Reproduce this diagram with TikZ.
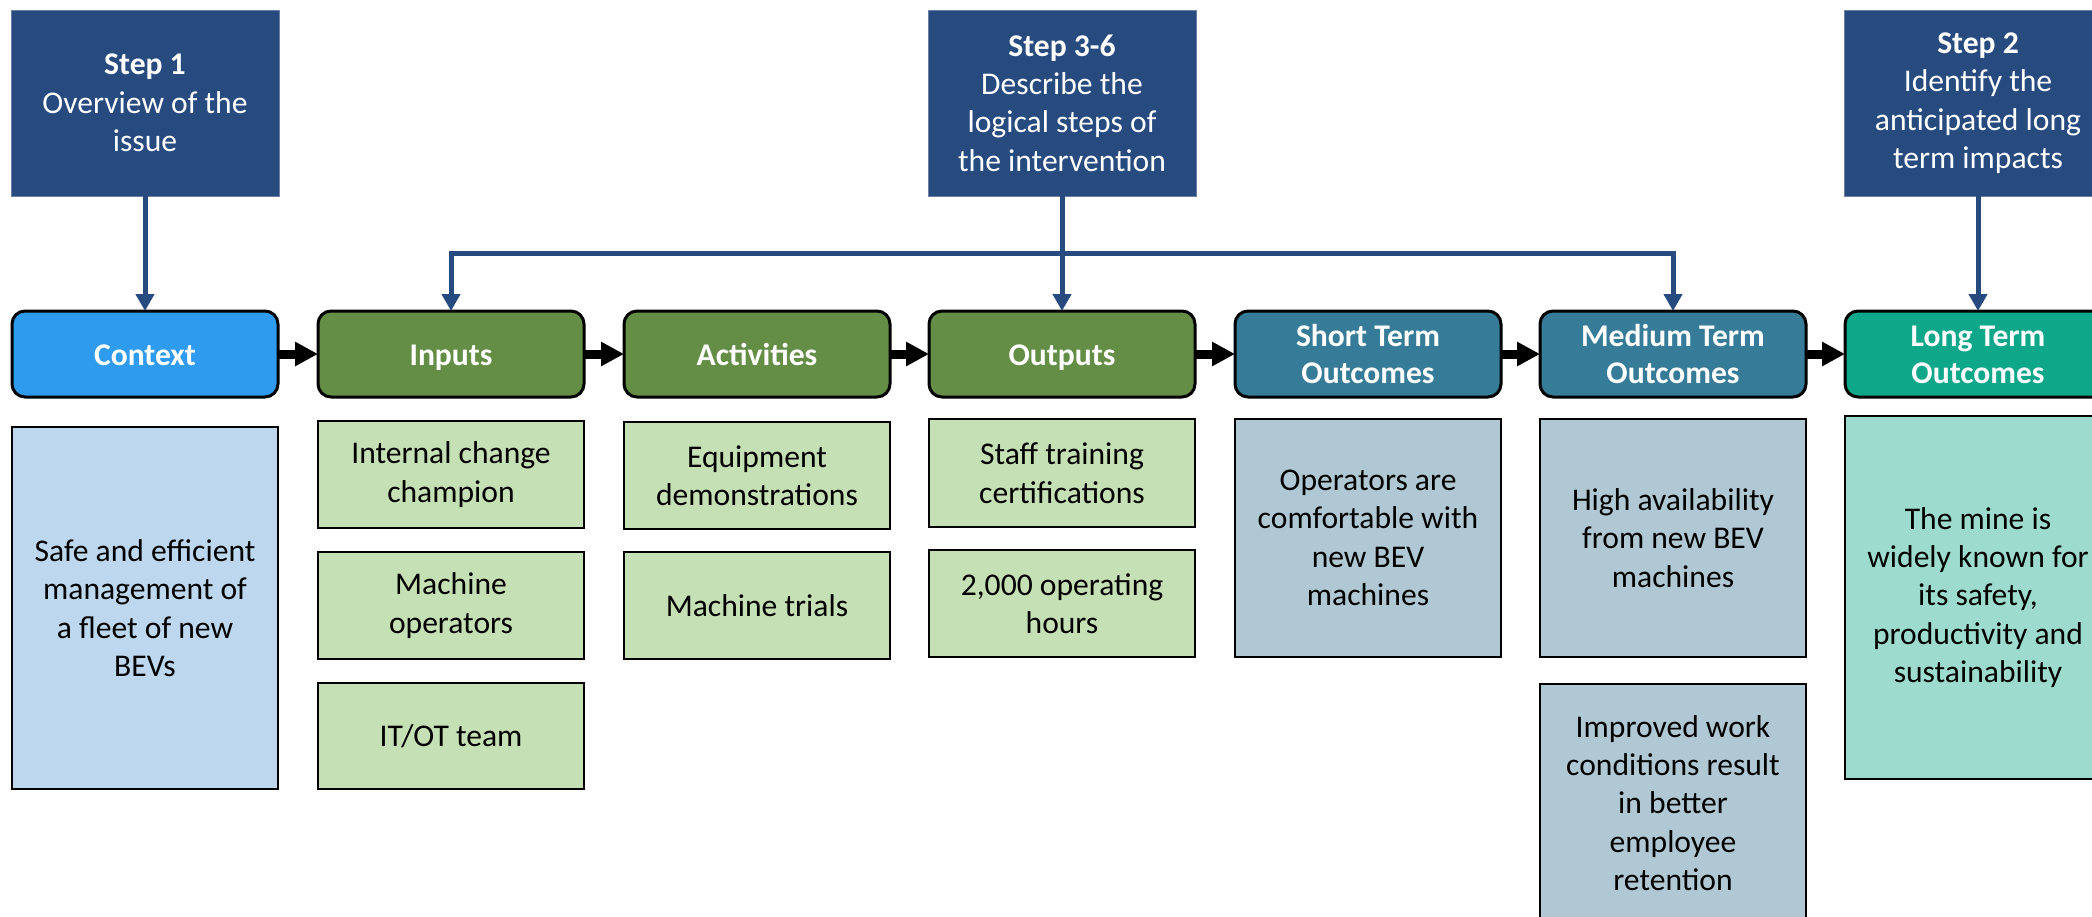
\documentclass[tikz,border=0pt]{standalone}
\usepackage{fontspec}
\setmainfont{Carlito}
\usetikzlibrary{arrows.meta}
\definecolor{stepblue}{HTML}{274B7F}
\definecolor{ctxblue}{HTML}{2E9BEE}
\definecolor{ctxlight}{HTML}{BDD7EE}
\definecolor{grn}{HTML}{648D46}
\definecolor{grnlight}{HTML}{C5E0B4}
\definecolor{teal}{HTML}{367B97}
\definecolor{teallight}{HTML}{B0C8D3}
\definecolor{lgreen}{HTML}{0EA78A}
\definecolor{lgreenlight}{HTML}{9EDBCF}
\newcommand\hstrut{\rule[-3.5pt]{0pt}{18pt}}
\tikzset{
  txt/.style={align=center, inner sep=0pt, outer sep=0pt, font=\fontsize{15.8}{19.2}\selectfont},
  stepbox/.style={txt, fill=stepblue, draw=stepblue!70!white, line width=0.5pt, text=white, minimum width=134pt, minimum height=93pt},
  hdr/.style={txt, draw=black, line width=1.5pt, rounded corners=6.5pt, text=white,
      font=\bfseries\fontsize{15.8}{18.6}\selectfont, minimum width=133pt, minimum height=43pt},
  sub/.style={txt, draw=black, line width=1pt, text=black, minimum width=133pt},
  blk/.style={line width=4.5pt, black, -{Triangle[length=11.5pt,width=11.5pt]}},
  barr/.style={line width=2.5pt, stepblue, -{Triangle[length=8.5pt,width=9pt]}},
  bboth/.style={line width=2.5pt, stepblue, line join=miter, {Triangle[length=8.5pt,width=9pt]}-{Triangle[length=8.5pt,width=9pt]}}
}
\begin{document}
\begin{tikzpicture}[x=0.5pt,y=-0.5pt]
\useasboundingbox (0,0) rectangle (2092,916);
\clip (0,0) rectangle (2092,916);

% step boxes
\node[stepbox] (s1) at (145,103) {\textbf{Step 1}\\Overview of the\\issue};
\node[stepbox] (s36) at (1062,103) {\textbf{Step 3-6}\\Describe the\\logical steps of\\the intervention};
\node[stepbox] (s2) at (1978,103) {\textbf{Step 2}\\Identify the\\anticipated long\\term impacts};

% header boxes
\node[hdr, fill=ctxblue] (ctx) at (145,354) {\hstrut Context};
\node[hdr, fill=grn] (inp) at (451,354) {\hstrut Inputs};
\node[hdr, fill=grn] (act) at (757,354) {\hstrut Activities};
\node[hdr, fill=grn] (out) at (1062,354) {\hstrut Outputs};
\node[hdr, fill=teal] (sht) at (1368,354) {\hstrut Short Term\\Outcomes\hstrut};
\node[hdr, fill=teal] (med) at (1673,354) {\hstrut Medium Term\\Outcomes\hstrut};
\node[hdr, fill=lgreen] (lng) at (1978,354) {\hstrut Long Term\\Outcomes\hstrut};

% description boxes
\node[sub, fill=ctxlight, minimum height=181pt] (ctxd) at (145,608) {Safe and efficient\\management of\\a fleet of new\\BEVs};
\node[sub, fill=grnlight, minimum height=53.5pt] (inp1) at (451,474.5) {Internal change\\champion};
\node[sub, fill=grnlight, minimum height=53.5pt] (inp2) at (451,605.5) {Machine\\operators};
\node[sub, fill=grnlight, minimum height=53pt] (inp3) at (451,736) {IT/OT team};
\node[sub, fill=grnlight, minimum height=53.5pt] (act1) at (757,475.5) {Equipment\\demonstrations};
\node[sub, fill=grnlight, minimum height=53.5pt] (act2) at (757,605.5) {Machine trials};
\node[sub, fill=grnlight, minimum height=54pt] (out1) at (1062,473) {Staff training\\certifications};
\node[sub, fill=grnlight, minimum height=53.5pt] (out2) at (1062,603.5) {2,000 operating\\hours};
\node[sub, fill=teallight, minimum height=119pt] (shtd) at (1368,538) {Operators are\\comfortable with\\new BEV\\machines};
\node[sub, fill=teallight, minimum height=119pt] (med1) at (1673,538) {High availability\\from new BEV\\machines};
\node[sub, fill=teallight, minimum height=119pt] (med2) at (1673,803) {Improved work\\conditions result\\in better\\employee\\retention};
\node[sub, fill=lgreenlight, minimum height=181.5pt] (lngd) at (1978,597.5) {The mine is\\widely known for\\its safety,\\productivity and\\sustainability};

% black flow arrows
\draw[blk] (ctx.east) -- (inp.west);
\draw[blk] (inp.east) -- (act.west);
\draw[blk] (act.east) -- (out.west);
\draw[blk] (out.east) -- (sht.west);
\draw[blk] (sht.east) -- (med.west);
\draw[blk] (med.east) -- (lng.west);

% blue step connectors
\coordinate (br) at (1673,253);
\draw[barr] (s1.south) -- (ctx.north);
\draw[barr] (s2.south) -- (lng.north);
\draw[bboth] (inp.north) |- (br) -- (med.north);
\draw[barr] (s36.south) -- (out.north);
\end{tikzpicture}
\end{document}
